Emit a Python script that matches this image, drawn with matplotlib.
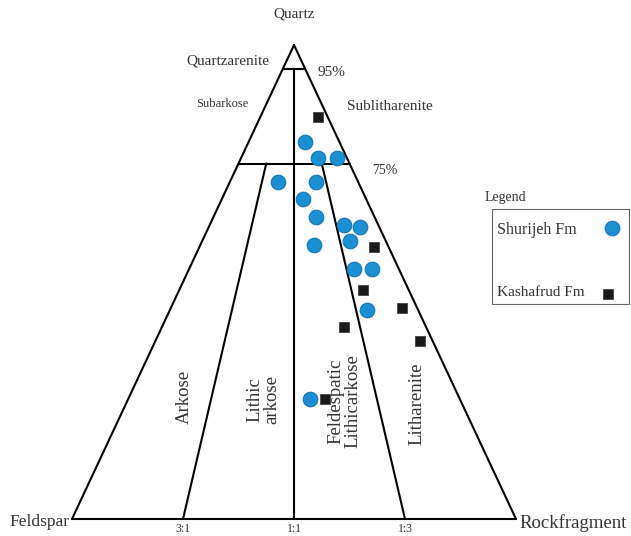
"""
QFR ternary classification diagram (Folk-style) with Shurijeh and Kashafrud samples.
"""

import numpy as np
import matplotlib.pyplot as plt

# Corner positions of the triangle in drawing units (x right, y down)
APEX = (294.0, 45.0)      # Quartz
LEFT = (72.0, 519.0)      # Feldspar
RIGHT = (516.0, 519.0)    # Rock fragment

# Sample compositions, percent (Q, F, R)
shurijeh_q = [79.5, 76.2, 76.2, 71.1, 71.1, 67.5, 63.7, 62.0, 61.6, 58.6, 57.8, 52.7, 52.7, 44.1, 25.3]
shurijeh_f = [7.8, 6.5, 2.2, 18.0, 9.5, 14.2, 13.2, 7.8, 4.4, 8.1, 16.6, 10.2, 6.1, 11.5, 33.8]
shurijeh_r = [12.7, 17.3, 21.6, 10.9, 19.4, 18.3, 23.1, 30.2, 34.0, 33.3, 25.6, 37.1, 41.2, 44.4, 40.9]

kashafrud_q = [84.8, 57.4, 48.3, 44.5, 40.5, 37.6, 25.3]
kashafrud_f = [2.2, 3.3, 10.3, 3.4, 18.5, 2.8, 30.4]
kashafrud_r = [13.0, 39.3, 41.4, 52.1, 41.0, 59.6, 44.3]

# Class boundaries
quartz_limits = [95, 75]
fr_ratios = [("3:1", 3, 1), ("1:1", 1, 1), ("1:3", 1, 3)]

SERIF = ["Liberation Serif", "DejaVu Serif"]
TEXT_COLOR = "#333333"
BLUE = "#1a8fd3"


def to_xy(q, f, r):
    """Convert Q-F-R percentages to drawing coordinates."""
    q = np.asarray(q, float)
    f = np.asarray(f, float)
    r = np.asarray(r, float)
    tot = q + f + r
    q, f, r = q / tot, f / tot, r / tot
    x = q * APEX[0] + f * LEFT[0] + r * RIGHT[0]
    y = q * APEX[1] + f * LEFT[1] + r * RIGHT[1]
    return x, y


def line(ax, p1, p2):
    x1, y1 = to_xy(*p1)
    x2, y2 = to_xy(*p2)
    ax.plot([x1, x2], [y1, y2], color="black", lw=1.5, solid_capstyle="round", zorder=2)


def label(ax, x, y, s, size=11, **kw):
    ax.text(x, y, s, fontsize=size, family=SERIF, color=TEXT_COLOR, **kw)


fig = plt.figure(figsize=(6.31, 5.36), dpi=100)
ax = fig.add_axes([0, 0, 1, 1])
ax.set_xlim(0, 631)
ax.set_ylim(536, 0)
ax.axis("off")

# outer triangle
line(ax, (100, 0, 0), (0, 100, 0))
line(ax, (0, 100, 0), (0, 0, 100))
line(ax, (0, 0, 100), (100, 0, 0))

# quartz lines
for qv in quartz_limits:
    rest = 100 - qv
    line(ax, (qv, rest, 0), (qv, 0, rest))

# feldspar : rock fragment ratio lines
for name, fv, rv in fr_ratios:
    top_q = 95 if fv == rv else 75
    rest = 100 - top_q
    line(ax, (0, fv, rv), (top_q, rest * fv / (fv + rv), rest * rv / (fv + rv)))
    bx, by = to_xy(0, fv, rv)
    label(ax, bx, 535, name, size=8.5, ha="center", va="bottom")

# samples
sx, sy = to_xy(shurijeh_q, shurijeh_f, shurijeh_r)
ax.plot(sx, sy, "o", ms=10.5, color=BLUE, mec="#1576b0", mew=0.8, ls="none", zorder=3)
kx, ky = to_xy(kashafrud_q, kashafrud_f, kashafrud_r)
ax.plot(kx, ky, "s", ms=7, color="#1a1a1a", mec="#444444", mew=0.6, ls="none", zorder=3)

# corner and field names
label(ax, 294, 14, "Quartz", ha="center", va="center")
label(ax, 69, 522, "Feldspar", size=12.5, ha="right", va="center")
label(ax, 519, 523, "Rockfragment", size=13.5, ha="left", va="center")
label(ax, 228, 61, "Quartzarenite", ha="center", va="center")
label(ax, 318, 72, "95%", ha="left", va="center")
label(ax, 222, 104, "Subarkose", size=9, ha="center", va="center")
label(ax, 390, 107, "Sublitharenite", ha="center", va="center")
label(ax, 385, 170, "75%", size=10, ha="center", va="center")

label(ax, 184, 397, "Arkose", size=13.5, rotation=90, ha="center", va="center")
label(ax, 263, 400, "Lithic\narkose", size=13.5, rotation=90, ha="center", va="center",
      multialignment="center", linespacing=1.0)
label(ax, 344, 401, "Feldespatic\nLithicarkose", size=13.5, rotation=90, ha="center",
      va="center", multialignment="center", linespacing=1.0)
label(ax, 417, 404, "Litharenite", size=13.5, rotation=90, ha="center", va="center")

# legend box
label(ax, 485, 198, "Legend", size=10, ha="left", va="center")
ax.plot([629, 492, 492, 629, 629], [209, 209, 304, 304, 209], color="#666666", lw=0.8)
label(ax, 497, 230, "Shurijeh Fm", size=11.5, ha="left", va="center")
label(ax, 497, 292, "Kashafrud Fm", ha="left", va="center")
ax.plot([612], [228], "o", ms=10.5, color=BLUE, mec="#1576b0", mew=0.8)
ax.plot([608], [294], "s", ms=7, color="#1a1a1a", mec="#444444", mew=0.6)

fig.savefig("out.png", dpi=100)
